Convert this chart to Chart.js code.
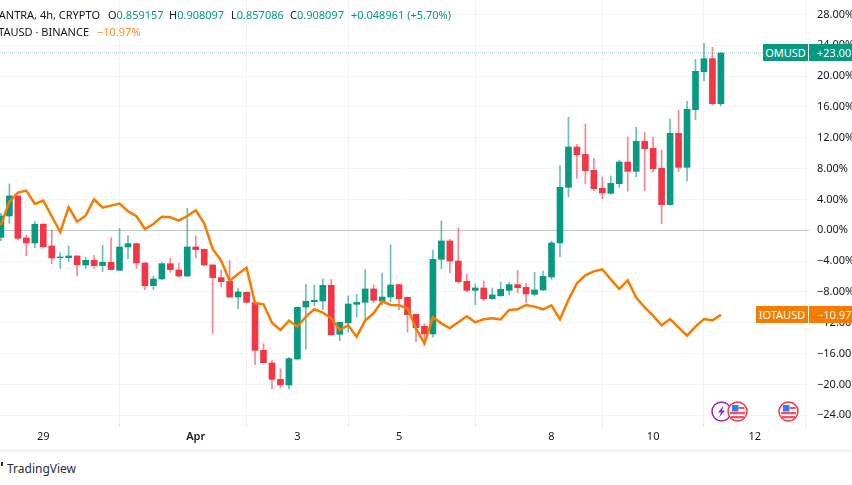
<!DOCTYPE html>
<html>
<head>
<meta charset="utf-8">
<script src="https://cdn.jsdelivr.net/npm/chart.js@4"></script>
<style>
  html, body { margin: 0; padding: 0; background: #fff; overflow: hidden; }
  body { width: 852px; height: 485px; position: relative; font-family: "Noto Sans", sans-serif; font-size: 11px; color: #131722; }
  #chart { position: absolute; left: 0; top: 0; }
  .txt { position: absolute; white-space: nowrap; line-height: 16px; }
  .up { color: #089981; }
  .tag { position: absolute; color: #fff; text-align: center; line-height: 17px; height: 17px; overflow: hidden; white-space: nowrap; }
  #footerLine { position: absolute; left: 0; top: 449px; width: 852px; height: 3px; background: #f0f3fa; }
  #logoBit { position: absolute; left: 1px; top: 462px; width: 2px; height: 4px; background: #2a2e39; }
  svg.icon { position: absolute; top: 401px; width: 21px; height: 21px; }
</style>
</head>
<body>
<canvas id="chart" width="852" height="450"></canvas>

<div class="txt" style="right:752px;top:7px">MANTRA, 4h, CRYPTO</div>
<div class="txt" style="left:108px;top:7px">O<span class="up">0.859157</span></div>
<div class="txt" style="left:169px;top:7px">H<span class="up">0.908097</span></div>
<div class="txt" style="left:231px;top:7px">L<span class="up">0.857086</span></div>
<div class="txt" style="left:290px;top:7px">C<span class="up">0.908097</span></div>
<div class="txt up" style="left:351px;top:7px">+0.048961 (+5.70%)</div>
<div class="txt" style="right:763px;top:24px">IOTAUSD · BINANCE</div>
<div class="txt" style="left:97px;top:24px;color:#ff8a1e">−10.97%</div>

<div class="tag" style="left:763px;top:44px;width:45px;background:#089981">OMUSD</div>
<div class="tag" style="left:809px;top:44px;width:43px;background:#089981;text-align:left;text-indent:8px">+23.00%</div>
<div class="tag" style="left:756px;top:306px;width:52px;background:#f57c00">IOTAUSD</div>
<div class="tag" style="left:809px;top:306px;width:43px;background:#f57c00;text-align:left;text-indent:8px">−10.97%</div>

<svg class="icon" style="left:711px" viewBox="0 0 21 21">
  <circle cx="10.5" cy="10.5" r="9.5" fill="#fff" stroke="#9c27b0" stroke-width="1.5"/>
  <path d="M12.5 4.5 L7 11.5 H10 L8 16.5 L14 9.5 H11 Z" fill="#9c27b0"/>
</svg>
<svg class="icon" style="left:727px" viewBox="0 0 21 21">
  <circle cx="10.5" cy="10.5" r="9.5" fill="#fff" stroke="#f23645" stroke-width="1.5"/>
  <rect x="3" y="11" width="15" height="2.2" fill="#f7525f"/><rect x="4" y="15" width="13" height="2.2" fill="#f7525f"/>
  <rect x="5" y="4" width="6.5" height="6.5" fill="#2f80ed"/><rect x="11.5" y="6" width="6" height="2" fill="#f7525f"/>
</svg>
<svg class="icon" style="left:778px" viewBox="0 0 21 21">
  <circle cx="10.5" cy="10.5" r="9.5" fill="#fff" stroke="#f23645" stroke-width="1.5"/>
  <rect x="3" y="11" width="15" height="2.2" fill="#f7525f"/><rect x="4" y="15" width="13" height="2.2" fill="#f7525f"/>
  <rect x="5" y="4" width="6.5" height="6.5" fill="#2f80ed"/><rect x="11.5" y="6" width="6" height="2" fill="#f7525f"/>
</svg>

<div id="footerLine"></div>
<div id="logoBit"></div>
<div class="txt" style="left:7px;top:461px;font-size:12px;font-weight:400;color:#2a2e39">TradingView</div>

<script>
// candles run from index -5 to 80, index 0 is the "29" grid line
const opens = [-0.91, 1.86, 4.46, -0.99, -1.64, 0.78, -2.03, -3.55, -3.55, -3.33, -4.50, -3.89, -4.58, -4.15, -5.19, -2.16, -1.73, -4.24, -7.18, -6.31, -4.33, -5.15, -5.93, -2.16, -2.47, -4.50, -6.14, -6.62, -8.65, -8.04, -9.39, -15.57, -17.21, -19.33, -20.07,
  -16.70, -9.95, -9.26, -9.17, -7.14, -13.49, -12.02, -9.60, -9.34, -7.61, -9.17, -8.65, -7.05, -8.69, -10.90, -12.46, -13.45, -3.76, -1.38, -3.98, -6.62, -7.79, -7.48, -8.87, -8.48, -7.79, -7.05, -7.40, -8.30, -7.74, -6.06,
  -1.64, 5.58, 10.81, 9.85, 7.78, 5.45, 4.80, 6.05, 8.86, 7.65, 11.54, 10.64, 8.04, 3.33, 12.58, 8.17, 15.65, 20.58, 22.27, 16.43];
const highs = [2.21, 6.01, 4.46, -0.61, 1.12, 0.91, 0.04, -2.90, -2.03, -3.29, -3.50, -3.29, -1.95, -0.99, 0.26, -0.69, -1.69, -4.20, -5.93, -4.20, -3.63, -4.28, 2.85, -0.74, -2.42, -4.46, -5.15, -3.94, -7.48, -8.00, -9.34, -14.71, -16.83, -17.95, -16.48,
  -9.90, -7.01, -7.09, -6.31, -6.36, -11.89, -8.52, -8.26, -5.10, -7.09, -5.54, -1.90, -7.01, -8.65, -10.86, -12.15, -2.55, 1.21, -1.17, 0.30, -5.67, -6.96, -6.57, -7.48, -6.70, -6.75, -5.19, -6.88, -5.45, -5.28, -1.38,
  8.39, 14.66, 11.15, 13.79, 9.34, 6.92, 7.05, 9.08, 12.11, 13.36, 12.71, 12.11, 10.42, 14.44, 15.61, 16.73, 22.18, 24.26, 23.74, 23.05];
const lows = [-1.34, 0.91, -1.25, -3.29, -2.25, -2.25, -4.33, -4.97, -4.07, -5.93, -4.97, -4.93, -5.36, -5.15, -5.23, -3.68, -4.97, -7.70, -7.70, -6.36, -5.45, -6.10, -6.01, -3.59, -4.58, -13.36, -7.35, -8.74, -10.16, -9.39, -17.43, -17.21, -20.59, -20.46, -20.59,
  -16.74, -15.44, -9.82, -10.29, -13.62, -14.32, -13.19, -11.29, -11.63, -9.39, -9.69, -9.30, -10.34, -13.19, -14.45, -14.66, -13.88, -5.02, -5.54, -6.88, -7.96, -9.65, -9.13, -8.95, -8.61, -8.39, -8.09, -9.39, -8.52, -7.83, -6.36,
  -3.42, 4.36, 6.74, 6.05, 5.19, 4.10, 4.67, 5.58, 5.06, 6.92, 5.14, 7.56, 0.86, 3.28, 7.61, 6.40, 14.36, 19.42, 16.21, 16.13];
const closes = [1.86, 4.46, -1.04, -1.64, 0.78, -2.12, -3.59, -3.46, -3.33, -4.46, -3.89, -4.58, -4.15, -5.10, -2.16, -1.73, -4.24, -7.18, -6.31, -4.33, -5.10, -5.93, -2.16, -2.51, -4.50, -6.14, -6.66, -8.65, -8.00, -9.34, -15.57, -17.17, -19.33, -20.07, -16.65,
  -9.99, -9.21, -9.08, -7.14, -13.54, -11.94, -9.56, -9.34, -7.61, -9.08, -8.65, -7.09, -8.87, -10.94, -12.63, -13.45, -3.76, -1.38, -3.98, -6.66, -7.79, -7.48, -8.87, -8.39, -7.66, -7.05, -7.44, -8.26, -7.74, -5.97, -1.64,
  5.58, 10.81, 9.81, 7.74, 5.40, 4.84, 6.09, 8.86, 7.65, 11.54, 10.59, 8.00, 3.33, 12.58, 8.17, 15.70, 20.63, 22.27, 16.43, 23.00];
const iota = [0.69, 3.72, 4.89, 5.15, 3.42, 3.85, 1.82, -0.22, 2.98, 1.12, 1.90, 4.02, 2.94, 3.20, 3.46, 2.47, 1.82, 0.17, 0.82, 1.77, 1.69, 1.25, 1.86, 2.60, 0.91, -2.42, -3.94, -6.53, -5.67, -4.84, -9.47, -9.60, -11.98, -12.93, -11.72,
  -12.50, -11.20, -10.25, -10.68, -11.42, -12.93, -12.33, -13.80, -11.72, -10.77, -9.21, -9.69, -9.73, -10.12, -12.72, -14.66, -11.29, -12.07, -12.72, -11.94, -11.16, -11.94, -11.55, -11.42, -11.55, -10.34, -10.25, -9.69, -9.90, -10.25, -9.73,
  -11.55, -9.00, -6.88, -5.84, -5.32, -5.06, -6.36, -7.61, -6.49, -8.74, -9.99, -11.07, -12.33, -11.51, -12.59, -13.67, -12.50, -11.51, -11.68, -10.97];

const timeTickIdx = [0, 18, 30, 42, 60, 72, 84];
const timeTickLabels = ['29', 'Apr', '3', '5', '8', '10', '12'];
const pctTicks = [28, 24, 20, 16, 12, 8, 4, 0, -4, -8, -12, -16, -20, -24];
const lastPrice = 23.00;

const green = '#089981', red = '#f23645';
const greenWick = 'rgba(8,153,129,0.6)', redWick = 'rgba(242,54,69,0.6)';
const isUp = closes.map((c, i) => c >= opens[i]);
const xMin = -5.11, xMax = 90.4;

new Chart(document.getElementById('chart'), {
    type: 'bar',
    data: {
        datasets: [
            {
                type: 'line',
                data: iota.map((v, i) => ({ x: i - 5, y: v })),
                borderColor: '#f57c00',
                borderWidth: 2.5,
                pointRadius: 0,
                tension: 0,
                order: 0
            },
            {
                type: 'line',
                data: [{ x: xMin, y: lastPrice }, { x: xMax, y: lastPrice }],
                borderColor: 'rgba(8,153,129,0.22)',
                borderWidth: 2,
                borderDash: [1, 1],
                pointRadius: 0,
                order: 4
            },
            {
                data: closes.map((c, i) => ({ x: i - 5, y: [opens[i], c] })),
                backgroundColor: isUp.map(u => u ? green : red),
                barThickness: 6,
                grouped: false,
                order: 2
            },
            {
                data: highs.map((h, i) => ({ x: i - 5, y: [lows[i], h] })),
                backgroundColor: isUp.map(u => u ? greenWick : redWick),
                barThickness: 1,
                grouped: false,
                order: 3
            }
        ]
    },
    options: {
        responsive: false,
        animation: false,
        layout: { padding: 0 },
        plugins: { legend: { display: false }, tooltip: { enabled: false } },
        scales: {
            x: {
                type: 'linear',
                offset: false,
                min: xMin,
                max: xMax,
                afterBuildTicks: s => { s.ticks = timeTickIdx.map(v => ({ value: v })); },
                afterFit: s => { s.height = 27; s.paddingLeft = 0; s.paddingRight = 0; },
                border: { display: false },
                grid: { color: '#f3f4f6', tickLength: 4, tickColor: '#e0e3eb' },
                ticks: {
                    autoSkip: false,
                    maxRotation: 0,
                    padding: 3,
                    color: '#131722',
                    font: c => ({ family: '"Noto Sans"', size: 11, weight: c.tick && c.tick.value === 18 ? '600' : '400' }),
                    callback: v => timeTickLabels[timeTickIdx.indexOf(v)]
                }
            },
            y: {
                position: 'right',
                min: -25,
                max: 29.88,
                afterBuildTicks: s => { s.ticks = pctTicks.map(v => ({ value: v })); },
                afterFit: s => { s.width = 43; s.paddingTop = 0; s.paddingBottom = 0; },
                border: { display: false },
                grid: {
                    drawTicks: false,
                    color: c => c.tick.value === 0 ? '#c4c6cf' : '#f4f5f7'
                },
                ticks: {
                    autoSkip: false,
                    padding: 8,
                    color: '#131722',
                    font: { family: '"Noto Sans"', size: 11 },
                    callback: v => (v < 0 ? '−' : '') + Math.abs(v).toFixed(2) + '%'
                }
            }
        }
    }
});
</script>
</body>
</html>
